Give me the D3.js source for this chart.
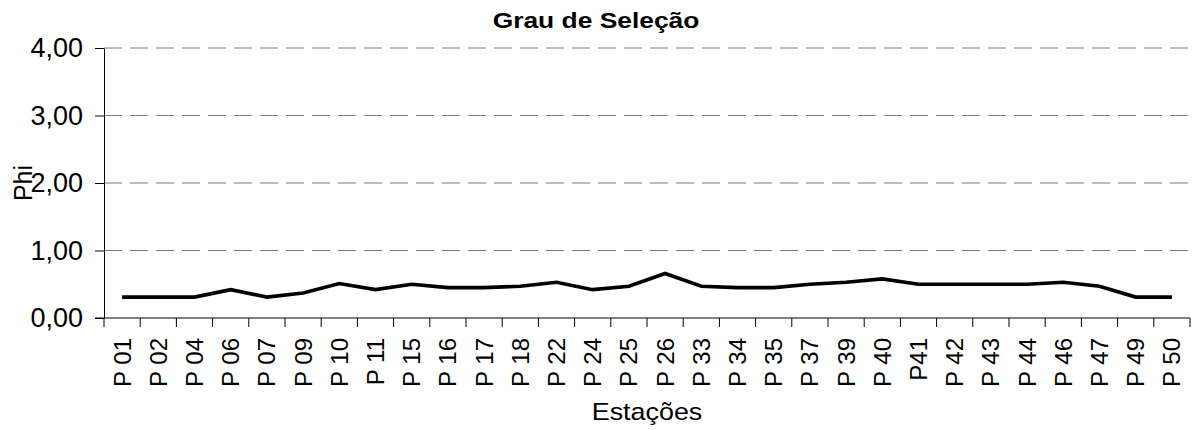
<!DOCTYPE html>
<html>
<head>
<meta charset="utf-8">
<script src="https://cdn.jsdelivr.net/npm/d3@7"></script>
<style>
  body { margin: 0; background: #fff; }
  text { font-family: Arial, "Liberation Sans", sans-serif; fill: #000; }
</style>
</head>
<body>
<div id="chart"></div>
<script>
// Grau de Selecao - line chart

var stations = ["P 01", "P 02", "P 04", "P 06", "P 07", "P 09", "P 10", "P 11", "P 15", "P 16",
  "P 17", "P 18", "P 22", "P 24", "P 25", "P 26", "P 33", "P 34", "P 35", "P 37",
  "P 39", "P 40", "P41", "P 42", "P 43", "P 44", "P 46", "P 47", "P 49", "P 50"];

var phi = [0.31, 0.31, 0.31, 0.42, 0.31, 0.37, 0.51, 0.42, 0.50, 0.45,
  0.45, 0.47, 0.53, 0.42, 0.47, 0.66, 0.47, 0.45, 0.45, 0.50,
  0.53, 0.58, 0.50, 0.50, 0.50, 0.50, 0.53, 0.47, 0.31, 0.31];

var yTicks = [0, 1, 2, 3, 4];

var w = 1193, h = 430;
var pLeft = 104, pRight = 1190, pTop = 48, pBottom = 318;

var svg = d3.select("#chart").append("svg")
  .attr("width", w)
  .attr("height", h);

var x = d3.scaleBand()
  .domain(stations)
  .range([pLeft, pRight]);

var y = d3.scaleLinear()
  .domain([0, 4])
  .range([pBottom, pTop]);

var fmt = function(d) { return d3.format(".2f")(d).replace(".", ","); };

// dashed gridlines
svg.selectAll(".grid")
  .data(yTicks.filter(function(d) { return d > 0; }))
.enter().append("line")
  .attr("class", "grid")
  .attr("x1", pLeft)
  .attr("x2", pRight)
  .attr("y1", function(d) { return y(d); })
  .attr("y2", function(d) { return y(d); })
  .style("stroke", "#7a7a7a")
  .style("stroke-width", 1.2)
  .style("stroke-dasharray", "18,8");

// y axis
var yAxis = svg.append("g")
  .attr("transform", "translate(" + pLeft + ",0)")
  .call(d3.axisLeft(y).tickValues(yTicks).tickFormat(fmt).tickSizeInner(9).tickSizeOuter(0).tickPadding(12));

yAxis.select(".domain").style("stroke", "#000");
yAxis.selectAll(".tick line").style("stroke", "#000");
yAxis.selectAll("text")
  .style("font-size", "27px")
  .style("font-family", "Arial, 'Liberation Sans', sans-serif");

// x axis line and ticks between categories
svg.append("line")
  .attr("x1", pLeft - 9)
  .attr("x2", pRight)
  .attr("y1", pBottom)
  .attr("y2", pBottom)
  .style("stroke", "#000");

var bounds = stations.map(function(d) { return x(d); }).concat([pRight]);

svg.selectAll(".xtick")
  .data(bounds)
.enter().append("line")
  .attr("class", "xtick")
  .attr("x1", function(d) { return d; })
  .attr("x2", function(d) { return d; })
  .attr("y1", pBottom)
  .attr("y2", pBottom + 9)
  .style("stroke", "#000");

svg.selectAll(".xlabel")
  .data(stations)
.enter().append("text")
  .attr("class", "xlabel")
  .attr("transform", function(d) { return "translate(" + (x(d) + x.bandwidth() / 2) + "," + 338 + ") rotate(-90)"; })
  .attr("dy", ".35em")
  .attr("text-anchor", "end")
  .style("font-size", "24px")
  .text(String);

// line
var line = d3.line()
  .x(function(d, i) { return x(stations[i]) + x.bandwidth() / 2; })
  .y(function(d) { return y(d); });

svg.append("path")
  .datum(phi)
  .attr("d", line)
  .style("fill", "none")
  .style("stroke", "#000")
  .style("stroke-width", 3.6)
  .style("stroke-linejoin", "miter");

// titles
svg.append("text")
  .attr("transform", "translate(596,28) scale(1.2,1)")
  .attr("text-anchor", "middle")
  .style("font-size", "22px")
  .style("font-weight", "bold")
  .text("Grau de Seleção");

svg.append("text")
  .attr("transform", "translate(647,420) scale(1.12,1)")
  .attr("text-anchor", "middle")
  .style("font-size", "24px")
  .text("Estações");

svg.append("text")
  .attr("transform", "translate(32,183) rotate(-90)")
  .attr("text-anchor", "middle")
  .style("font-size", "25px")
  .text("Phi");
</script>
</body>
</html>
